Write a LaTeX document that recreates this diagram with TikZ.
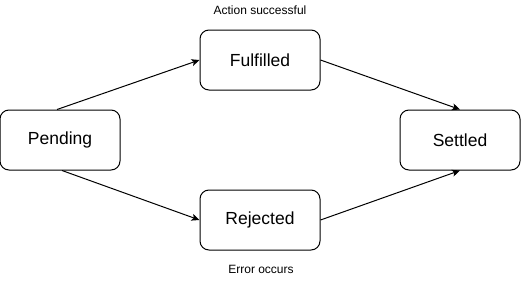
\documentclass[tikz,border=0pt]{standalone}
\usepackage{fontspec}
\setmainfont{Liberation Sans}
\usetikzlibrary{arrows.meta}

\tikzstyle{state}=[draw,rectangle,rounded corners=9pt,line width=1pt,
                   minimum width=120pt,minimum height=60pt,font=\fontsize{17.5}{20}\selectfont]
\tikzstyle{note}=[font=\fontsize{12}{14}\selectfont]
\tikzstyle{flow}=[line width=1pt,-{Stealth[length=8pt,width=7pt,inset=2pt]}]

\begin{document}
\begin{tikzpicture}[x=1pt,y=-1pt]
  \useasboundingbox (0,0) rectangle (521,281);
  % states
  \node[state] (pend) at (60,140) {Pending};
  \node[state] (ful)  at (260,60) {Fulfilled};
  \node[state] (rej)  at (260,220) {Rejected};
  \node[state] (set)  at (460,140) {Settled};

  % transition notes
  \node[note] (ok)  at (260,10) {Action successful};
  \node[note] (err) at (261,269) {Error occurs};

  \draw[flow] ([xshift=-3pt]pend.north) -- (ful.west);
  \draw[flow] ([xshift=2pt]pend.south) -- (rej.west);
  \draw[flow] (ful.east) -- (set.north);
  \draw[flow] (rej.east) -- (set.south);
\end{tikzpicture}
\end{document}
